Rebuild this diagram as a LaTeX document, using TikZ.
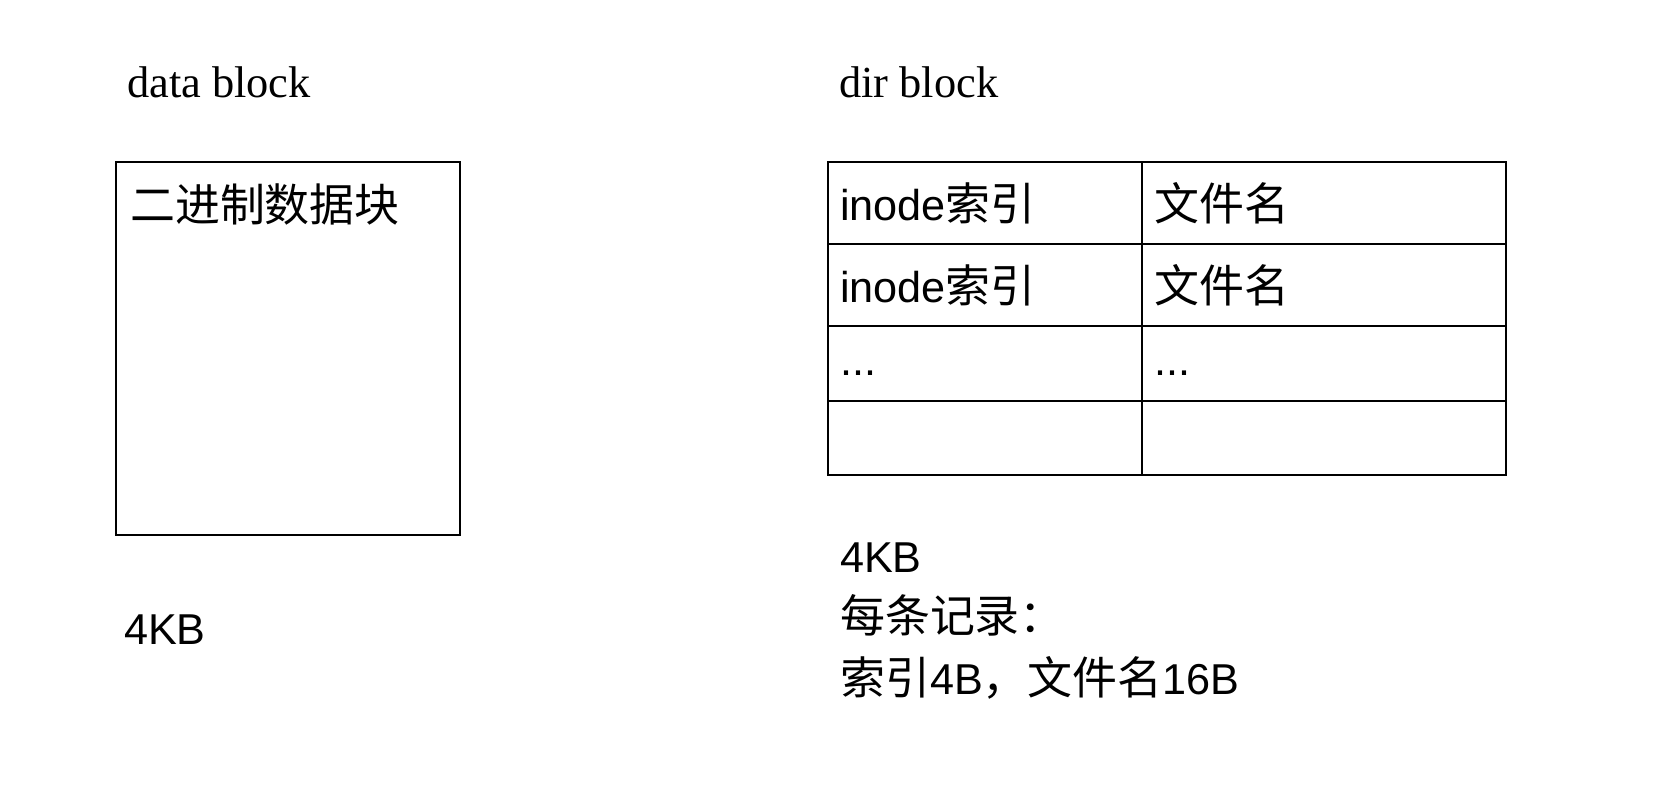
\documentclass[tikz,border=0pt]{standalone}
\usepackage{fontspec}
\setmainfont{Liberation Serif}
\setsansfont{Liberation Sans}
\newfontfamily\cjk[Scale=1.04]{Noto Sans CJK SC}
\newcommand{\zh}[1]{{\cjk #1}}

\begin{document}
\begin{tikzpicture}[x=0.5pt,y=-0.5pt,line width=1.15pt,
  title/.style={anchor=base west,inner sep=0pt,
    font=\fontsize{22.2pt}{26pt}\selectfont\rmfamily},
  entry/.style={anchor=base west,inner sep=0pt,
    font=\fontsize{21.6pt}{26pt}\selectfont\sffamily}]
  \useasboundingbox (0,0) rectangle (1680,788);

  % data block
  \node[title] (dataT) at (126,97) {data block};
  \draw (116,162) rectangle (460,535);
  \node[entry] (dataC) at (129,221) {\zh{二进制数据块}};
  \node[entry] (dataS) at (123,644) {4KB};

  % dir block
  \node[title] (dirT) at (838,97) {dir block};
  \draw (828,162) rectangle (1506,475);
  \foreach \y in {244,326,401}
    \draw (828,\y) -- (1506,\y);
  \draw (1142,162) -- (1142,475);

  \node[entry] (idx1) at (839,220) {inode\zh{索引}};
  \node[entry] (name1) at (1153,220) {\zh{文件名}};
  \node[entry] (idx2) at (839,302) {inode\zh{索引}};
  \node[entry] (name2) at (1153,302) {\zh{文件名}};
  \node[entry] (idx3) at (839,375) {...};
  \node[entry] (name3) at (1153,375) {...};

  \node[entry] (dirS) at (839,572) {4KB};
  \node[entry] (dirR) at (839,632) {\zh{每条记录：}};
  \node[entry] (dirD) at (839,694) {\zh{索引}4B\zh{，文件名}16B};
\end{tikzpicture}
\end{document}
